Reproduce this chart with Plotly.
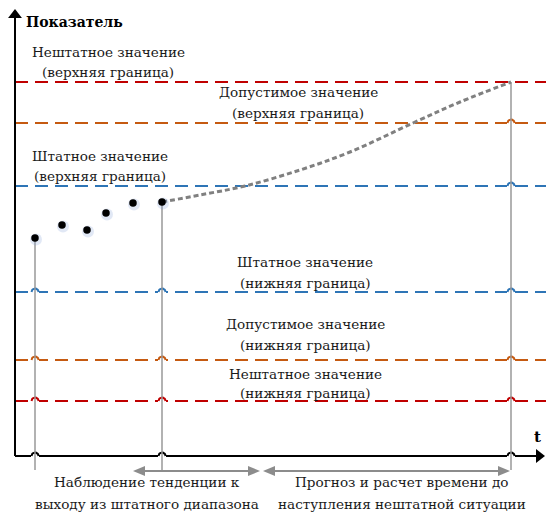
import numpy as np
import plotly.graph_objects as go

# ---------------- data ----------------
label_line1 = ["Нештатное значение", "Допустимое значение", "Штатное значение",
               "Штатное значение", "Допустимое значение", "Нештатное значение"]
label_line2 = ["(верхняя граница)", "(верхняя граница)", "(верхняя граница)",
               "(нижняя граница)", "(нижняя граница)", "(нижняя граница)"]
level_values = [374, 333, 270, 164, 96, 55]
level_colors = ["#C00000", "#C55A11", "#2E75B6", "#2E75B6", "#C55A11", "#C00000"]
label_t = [93, 283, 85, 290, 290, 290]
label_v1 = [404, 364, 300, 194, 132, 82]
label_v2 = [384, 343, 280, 173, 111, 63]

obs_t = [20, 47, 72, 91, 118, 147]
obs_v = [218, 231, 226, 243, 253, 254]

forecast_t = [147, 185, 230, 285, 335, 398, 445, 496]
forecast_v = [254, 261, 270, 286, 304, 333, 354, 374]

t_crit = 496
phase_line1 = ["Наблюдение тенденции к", "Прогноз и расчет времени до"]
phase_line2 = ["выходу из штатного диапазона", "наступления нештатной ситуации"]
phase_label_t = [132, 387]
phase_v1, phase_v2 = -26, -48
phase_arrow_start = [118, 248]
phase_arrow_end = [245, 495]

axis_t_end = 530
axis_v_end = 447
arrow_v = -15
vline_bottom = -14

FONT = "DejaVu Serif"
FS = 13.6
GRAY = "#999999"
ARROW_GRAY = "#8C8C8C"

fig = go.Figure()
shapes = []


def add_line(x, y, color, width, dash="solid"):
    fig.add_trace(go.Scatter(x=x, y=y, mode="lines",
                             line=dict(color=color, width=width, dash=dash),
                             hoverinfo="skip", showlegend=False))


def add_tri(pts, color):
    path = "M " + " L ".join(f"{px},{py}" for px, py in pts) + " Z"
    shapes.append(dict(type="path", path=path, xref="x", yref="y",
                       fillcolor=color, line=dict(width=0), layer="above"))


# level dashed lines
for v, c in zip(level_values, level_colors):
    add_line([0, axis_t_end + 1], [v, v], c, 2, "13px,7px")

verticals = [(obs_t[0], obs_v[0]), (obs_t[-1], obs_v[-1]), (t_crit, forecast_v[-1])]

# axes with arrowheads
add_line([0, axis_t_end - 8], [0, 0], "black", 2)
add_line([0, 0], [0, axis_v_end - 8], "black", 2)
fig.add_trace(go.Scatter(x=[axis_t_end - 6], y=[0], mode="markers",
                         marker=dict(symbol="triangle-right", size=12, color="black", line=dict(width=0)),
                         hoverinfo="skip", showlegend=False))
fig.add_trace(go.Scatter(x=[0], y=[axis_v_end - 6], mode="markers",
                         marker=dict(symbol="triangle-up", size=12, color="black", line=dict(width=0)),
                         hoverinfo="skip", showlegend=False))

# hop-over bumps where vertical lines cross horizontal lines
theta = np.linspace(np.pi, 0, 15)
r = 3.5
crossings = []
for vt, vtop in verticals:
    for v, c in zip(level_values, level_colors):
        if v < vtop - 1:
            crossings.append((vt, v, c))
    crossings.append((vt, 0, "black"))
for vt, v, c in crossings:
    add_line([vt - r - 0.5, vt + r + 0.5], [v, v], "white", 4)
    add_line(list(vt + r * np.cos(theta)), list(v + r * np.sin(theta)), c, 2)

# vertical gray lines
for vt, vtop in verticals:
    add_line([vt, vt], [vtop, vline_bottom], GRAY, 1.5)

# forecast curve
fig.add_trace(go.Scatter(x=forecast_t, y=forecast_v, mode="lines",
                         line=dict(color="#808080", width=3, dash="5px,3px", shape="spline"),
                         hoverinfo="skip", showlegend=False))

# observed points with a soft shadow
fig.add_trace(go.Scatter(x=[t + 1 for t in obs_t], y=[v - 1.5 for v in obs_v], mode="markers",
                         marker=dict(size=12, color="rgba(120,150,210,0.22)", line=dict(width=0)),
                         hoverinfo="skip", showlegend=False))
fig.add_trace(go.Scatter(x=obs_t, y=obs_v, mode="markers",
                         marker=dict(size=7.5, color="black", line=dict(width=0)),
                         hoverinfo="skip", showlegend=False))

# phase arrows (double headed)
for a, b in zip(phase_arrow_start, phase_arrow_end):
    add_line([a + 10, b - 10], [arrow_v, arrow_v], ARROW_GRAY, 2)
    add_tri([(a, arrow_v), (a + 12, arrow_v + 5), (a + 12, arrow_v - 5)], ARROW_GRAY)
    add_tri([(b, arrow_v), (b - 12, arrow_v + 5), (b - 12, arrow_v - 5)], ARROW_GRAY)

annotations = []


def add_text(txt, t, v, size=FS, color="#1a1a1a", xanchor="center"):
    annotations.append(dict(x=t, y=v, text=txt, showarrow=False, xanchor=xanchor, yanchor="middle",
                            font=dict(family=FONT, size=size, color=color)))


for l1, l2, t, v1, v2 in zip(label_line1, label_line2, label_t, label_v1, label_v2):
    add_text(l1, t, v1)
    add_text(l2, t, v2)
for l1, l2, t in zip(phase_line1, phase_line2, phase_label_t):
    add_text(l1, t, phase_v1)
    add_text(l2, t, phase_v2)
add_text("<b>Показатель</b>", 9, 434, size=14, color="black", xanchor="left")
add_text("<b>t</b>", 522, 19, size=15, color="black")

fig.update_layout(
    width=546, height=513,
    margin=dict(l=0, r=0, t=0, b=0),
    paper_bgcolor="white", plot_bgcolor="white",
    font=dict(family=FONT),
    xaxis=dict(range=[-15, 531], visible=False, fixedrange=True),
    yaxis=dict(range=[-57, 456], visible=False, fixedrange=True),
    showlegend=False,
    annotations=annotations,
    shapes=shapes,
)

fig.write_html("out.html", config={"displayModeBar": False},
               post_script="document.body.style.margin='0';document.body.style.overflow='hidden';")
